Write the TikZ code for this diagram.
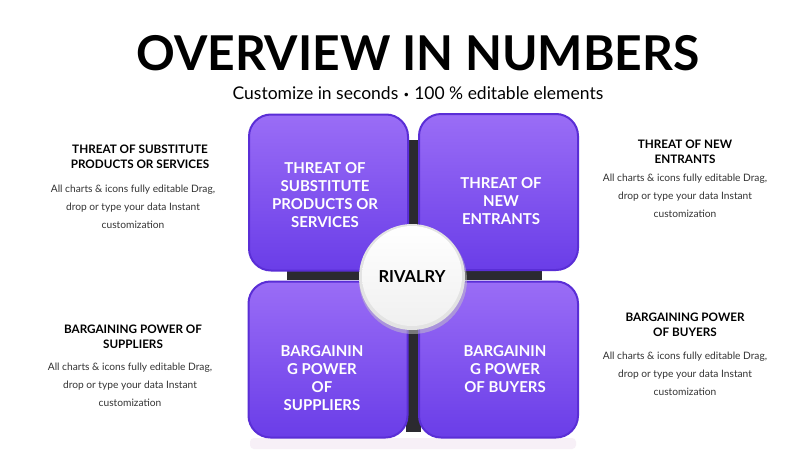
\documentclass[tikz,border=0pt]{standalone}
\usepackage{fontspec}
\setmainfont{Poppins}
\newfontfamily\lato{Lato}
\newfontfamily\dejavu{DejaVu Sans}
\definecolor{quadtop}{HTML}{9A6DF6}
\definecolor{quadbot}{HTML}{6A3DE8}
\definecolor{quadedge}{HTML}{5A2ED6}
\definecolor{crossc}{HTML}{2B2A30}
\definecolor{bodyc}{HTML}{333333}
\tikzset{
  quad/.style={rounded corners=22pt, draw=quadedge, line width=2pt,
    top color=quadtop, bottom color=quadbot, minimum width=159pt, minimum height=156pt, inner sep=0pt},
  quadtext/.style={text=white, font=\fontsize{15}{18}\selectfont\bfseries\lato, align=center, inner sep=0pt},
  headtext/.style={text=black, font=\fontsize{11.7}{15}\selectfont\bfseries\lato, align=center, inner sep=0pt},
  bodytext/.style={text=bodyc, font=\fontsize{10.2}{18}\selectfont\lato, align=center, inner sep=0pt},
}
\begin{document}
\begin{tikzpicture}[x=1pt,y=-1pt]
\useasboundingbox[fill=white] (0,0) rectangle (800,450);
% title
\node[font=\fontsize{48}{56}\selectfont\bfseries\lato] (title) at (418,53) {OVERVIEW IN NUMBERS};
\node[font=\fontsize{17.5}{20}\selectfont\lato] (sub) at (418,93) {Customize in seconds {\dejavu\fontsize{12}{14}\selectfont •} 100 \% editable elements};
% shadow under bottom boxes
\fill[violet!6, rounded corners=4pt] (250,438) rectangle (576,449);
% dark cross
\fill[crossc] (406,140) rectangle (421,432);
\fill[crossc] (287,269) rectangle (542,280);
% quadrants
\node[quad] (tl) at (328.5,192.5) {};
\node[quad] (tr) at (498.5,192) {};
\node[quad] (bl) at (328,359.5) {};
\node[quad] (br) at (498.5,359.5) {};
% quadrant texts
\node[quadtext] (tlt) at (325,195) {THREAT OF\\SUBSTITUTE\\PRODUCTS OR\\SERVICES};
\node[quadtext] (trt) at (501,201) {THREAT OF\\NEW\\ENTRANTS};
\node[quadtext] (blt) at (322,378) {BARGAININ\\G POWER\\OF\\SUPPLIERS};
\node[quadtext] (brt) at (505,369.5) {BARGAININ\\G POWER\\OF BUYERS};
% center circle
\fill[gray!45, opacity=0.5] (413,280) circle (54);
\node[circle, minimum size=106pt, inner sep=0pt, fill=gray!22] (ring) at (412,277) {};
\node[circle, minimum size=100pt, inner sep=0pt,
  top color=white, bottom color=gray!12] (rival) at (412,276) {};
\node[font=\fontsize{16.5}{18}\selectfont\bfseries\lato] (rivalt) at (412,277) {RIVALRY};
% side texts
\node[headtext] (h1) at (140,157) {THREAT OF SUBSTITUTE\\PRODUCTS OR SERVICES};
\node[bodytext] (b1) at (133,207) {All charts \& icons fully editable Drag,\\drop or type your data Instant\\customization};
\node[headtext] (h2) at (685,152) {THREAT OF NEW\\ENTRANTS};
\node[bodytext] (b2) at (685,196) {All charts \& icons fully editable Drag,\\drop or type your data Instant\\customization};
\node[headtext] (h3) at (133,337) {BARGAINING POWER OF\\SUPPLIERS};
\node[bodytext] (b3) at (130,385) {All charts \& icons fully editable Drag,\\drop or type your data Instant\\customization};
\node[headtext] (h4) at (685,325) {BARGAINING POWER\\OF BUYERS};
\node[bodytext] (b4) at (685,374) {All charts \& icons fully editable Drag,\\drop or type your data Instant\\customization};
\end{tikzpicture}
\end{document}
